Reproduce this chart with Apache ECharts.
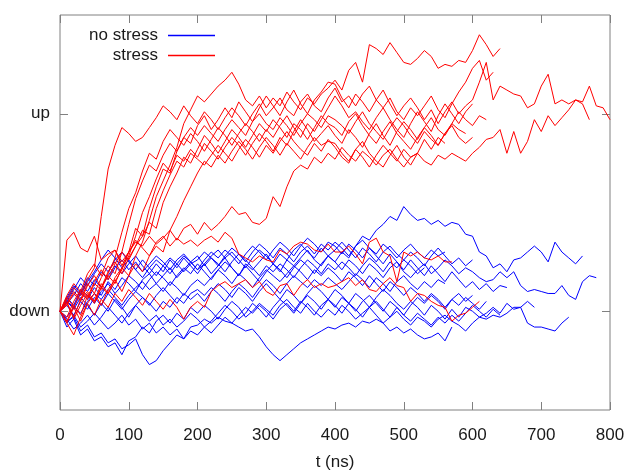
<!DOCTYPE html>
<html>
<head>
<meta charset="utf-8">
<script src="https://cdn.jsdelivr.net/npm/echarts@6/dist/echarts.min.js"></script>
<style>
html,body{margin:0;padding:0;background:#fff;}
#chart{width:627px;height:471px;}
</style>
</head>
<body>
<div id="chart"></div>
<script>
// sample times (ns)
const times = [0,10,20,30,40,50,60,70,80,90,100,110,120,130,140,150,160,170,180,190,200,210,220,230,240,250,260,270,280,290,300,310,320,330,340,350,360,370,380,390,400,410,420,430,440,450,460,470,480,490,500,510,520,530,540,550,560,570,580,590,600,610,620,630,640,650,660,670,680,690,700,710,720,730,740,750,760,770,780,790,800];
const xTicks = [0,100,200,300,400,500,600,700,800];
const yTickValues = [0, 100];
const yTickLabels = ['down', 'up'];

// "no stress" runs (state coordinate: down = 0, up = 100)
const noStress1 = [0,-8,-4,-12,-9,-15,-13,-18,-16,-22,-15,-13,-8,-11,-5,-2,-6,-1,-4,2,-1,3,0,-4,1,5,2,-3,0,4,1,-2,3,6,2,-1,4,0,-3,1,-2,3,0,-4,-1,2,-2,-6,-3,0,-4,-7,-3,-5,-8,-4,-2,-5,-7,-10,-6,-3,-1,2,-1,4,1,2,5,2];
const noStress2 = [0,-5,-3,-10,-7,-13,-11,-16,-14,-19,-17,-14,-22,-27,-25,-20,-16,-12,-14,-8,-7,-4,-6,-3,-5,-6,-8,-10,-9,-13,-18,-22,-25,-22,-19,-16,-14,-12,-10,-8,-9,-7,-6,-8,-5,-6,-4,-6,-10,-8,-11,-9,-12,-14,-13,-11,-15,-8];
const noStress3 = [0,5,2,9,6,12,8,15,11,17,14,10,16,19,14,18,22,17,21,25,21,24,19,23,27,22,18,24,21,25,29,24,20,26,23,27,31,26,23,28,25,30,27,33,38,36,41,44,48,46,53,49,46,47,44,46,43,45,44,39,38,30,28,22,24,20,26,27,30,33,30,25,35,30,27,24,28];
const noStress4 = [0,7,3,11,8,4,10,14,9,13,18,15,11,16,20,17,13,18,22,19,24,20,16,21,25,22,18,23,19,15,20,24,21,17,22,26,23,19,24,28,25,21,26,23,19,24,21,17,22,25,20,17,21,24,19,22,26,23,19,22,20,17,15,16,20,17,20,13,10,11,10,9,9,13,8,6,15,18,17];
const noStress5 = [0,3,-2,5,1,7,3,9,5,1,6,10,7,3,8,12,8,4,9,6,9,5,10,14,11,7,12,9,5,10,14,10,6,11,8,4,9,13,10,6,11,8,4,9,6,2,7,11,8,4,1,5,2,-2,3,0,-4,1,-3,2,0,-3,-4,-2,-3,-1,2,2,-6,-8,-8,-9,-10,-6,-3];
const noStress6 = [0,6,12,8,15,20,26,31,27,22,26,21,17,22,26,23,19,24,28,25,21,26,30,27,31,28,24,29,33,30,26,31,35,32,28,33,37,34,30,35,33,29,34,31,27,32,28,24,29,25,21,26,22,18,23,19,15,20,16,12,15,11,14,10,13,12];
const noStress7 = [0,4,8,14,10,16,12,18,23,19,24,28,23,19,24,20,26,22,27,23,19,24,28,31,27,30,26,22,27,31,28,24,29,26,31,34,30,27,32,28,31,35,31,27,32,29,25,30,33,29,26,30,27,23,28,32,28,24,27,23,26];
const noStress8 = [0,-3,2,-1,5,9,6,11,7,3,8,12,15,11,14,10,15,12,8,13,16,13,17,21,18,14,19,16,12,17,21,18,15,19,23,20,16,21,18,22,19,15,20,17,13,18,14,10,15,12,8,12,9,5,9,6,2,6,3,7,4,1,5];
const noStress9 = [0,5,1,7,3,-2,4,0,6,2,-3,3,7,4,0,5,2,7,4,9,11,8,12,9,5,10,14,11,7,12,16,13,9,14,18,15,12,16,13,17,14,11,15,19,16,12,17,14,10,15,18,14,11,15,12,16,14];
const noStress10 = [0,7,13,9,17,13,20,16,22,26,21,25,20,24,28,25,21,26,29,25,28,23,27,24,20,25,29,26,22,18,23,20,24,21,17,22,26,23,19,24,21,25,22,18,23,27,24,20,25,22,26,23,19,22];
const noStress11 = [0,-4,-9,-6,-2,-7,-3,2,-2,-6,-1,3,-1,-5,-2,-7,-4,-8,-5,-1,-4,-8,-5,-1,3,0,-4,-1,4,1,-3,2,6,3,-1,4,8,5,1,6,3,-1,4,1,-3,2,5,1,-3,2,-2,-5,-1,-4,-7,-3,-6,-2,-5,-1,3,0,-3,1,-2];
const noStress12 = [0,-6,-2,-8,-5,-1,-5,-9,-6,-2,-7,-4,-9,-6,-11,-8,-12,-9,-14,-10,-12,-8,-11,-7,-3,-6,-2,2,-1,3,0,-4,1,4,0,5,2,-2,3,6,2,7,4,0,5,8,4,0,5,2,-2,3,7,4,8,5,1,6,9,5,8];
const noStress13 = [0,5,11,17,13,19,24,20,26,30,25,21,26,22,18,23,27,24,20,24,26,30,27,23,28,32,29,25,30,34,31,27,32,29,25,30,33,29,34,31,35,32,28,33,36,32,29,34,31,27,31,34,30,27,31,28,30];

// "stress" runs
const stress1 = [0,4,-3,6,10,5,14,9,17,22,18,28,35,46,58,66,74,83,95,102,109,106,110,114,117,121,115,107,104,109,103,108,104,111,106,102,108,105,110,113,117,112,122,126,116,135,133,130,136,131,126,125,128,132,129,123,125,124,127,126,132,140,135,129,133];
const stress2 = [0,6,12,8,16,22,48,72,84,93,90,86,88,93,98,104,101,97,104,99,95,101,97,92,98,103,99,94,100,105,99,103,108,102,99,106,110,104,101,108,113,106,109,104,110,114,107,103,108,101,97,103,99,104,109,102,98,105,111,116,123,127,117,121];
const stress3 = [0,-5,3,-2,8,5,12,9,15,21,30,42,38,52,63,72,70,81,88,85,94,99,92,97,103,98,106,101,96,103,109,104,99,106,112,105,100,107,111,116,115,108,103,110,106,101,107,112,105,99,104,108,103,97,102,95,101,106,100,104,107,116,126,107,114,112,110,109,103,105,114,120,105,107,105,107,106,114,104,103,97];
const stress4 = [0,36,40,32,30,38,26,29,31,23,30,35,33,38,34,37,41,36,42,44,39,45,41,44,48,53,49,50,45,44,47,58,53,63,71,74,72,78,75,80,77,83,79,76,81,78,74,79,82,77,73,78,80,76,74,79,77,80,78,76,80,83,87,88,92,80,91,80,86,97,91,99,94,98,102,107,105,97];
const stress5 = [0,-6,2,10,6,14,11,19,27,40,52,60,71,80,77,86,92,88,84,90,86,81,87,93,89,84,90,95,91,86,92,88,94,99,93,88,95,91,97,103,109,104,98,101,96,92,98,103,97,92,88,95,101,96,91,99,105,100,95,101,105];
const stress6 = [0,5,-4,3,9,4,12,18,14,22,28,38,50,58,67,75,71,79,76,82,78,85,81,77,83,88,84,79,85,90,86,81,88,84,91,97,92,86,90,94,89,85,92,88,83,90,95,89,84,91,96,92,87,93,98,92,89,95,101,97,94,99,97];
const stress7 = [0,3,9,5,13,18,12,20,25,19,27,33,41,39,52,61,69,76,73,80,77,74,79,84,80,76,82,87,83,78,84,80,86,91,86,82,79,85,81,87,83,78,75,82,86,80,76,73,79,84,78,74,80,87,82,88,85];
const stress8 = [0,-3,5,11,7,15,21,16,24,30,26,33,38,45,42,55,63,70,78,75,82,89,85,80,86,92,88,83,89,95,91,97,93,88,95,92,87,93,99,95,93,89,96,100,94,89,85,91,96,90,86,82,88,93,89,84,90,95,92,90];
const stress9 = [0,7,2,-5,4,9,3,11,16,10,18,24,20,28,33,30,41,48,56,63,70,76,73,79,75,81,86,82,77,83,88,84,79,85,81,77,83,88,84,86,85,80,76,82,78,73,79,84,80,76,82,78,80];
const stress10 = [0,8,14,10,19,24,18,27,31,25,30,36,32,28,35,38,33,37,34,36,33,36,38,35,40,37,29,27,25,28,26,25,31,29,33,35,34,31,30,34,30,30,33,29,24,35,37,30,28,15,30,28,30,27,26,28,25,25];
const stress11 = [0,-6,-12,-3,4,-2,6,2,9,5,11,7,3,9,5,1,6,2,-4,2,5,2,10,13,15,12,14,16,12,15,10,8,13,14,8,13,16,12,14,12,13,15,17,13,16,11,10,14,17,13,12,5,9,8,5,3,2,-5,-2,-1,2,5];
const stress12 = [0,4,10,6,14,9,17,23,19,30,44,57,66,74,71,79,85,81,88,93,89,94,90,86,92,97,93,89,96,100,95,92,98,94,89,95,100,97,93,99,97,94,90,96,101,95,91,87,93,98,94,89,85,91,87,84,90,94,88,85,88];

const noStressRuns = [noStress1,noStress2,noStress3,noStress4,noStress5,noStress6,noStress7,noStress8,noStress9,noStress10,noStress11,noStress12,noStress13];
const stressRuns = [stress1,stress2,stress3,stress4,stress5,stress6,stress7,stress8,stress9,stress10,stress11,stress12];

const BLUE = '#0000ff', RED = '#ff0000';
const FONT = 'Liberation Sans';

function mk(run, name, color) {
  return {
    type: 'line', name: name, data: run.map((v, i) => [times[i], v]),
    showSymbol: false, symbol: 'none', silent: true,
    lineStyle: { color: color, width: 1 }, itemStyle: { color: color },
    xAxisIndex: 0, yAxisIndex: 0
  };
}
const series = [];
noStressRuns.forEach(r => series.push(mk(r, 'no stress', BLUE)));
stressRuns.forEach(r => series.push(mk(r, 'stress', RED)));

const chart = echarts.init(document.getElementById('chart'), null, { renderer: 'canvas' });
const tickStyle = { show: true, inside: true, length: 8, lineStyle: { color: '#808080', width: 1 } };
const noLine = { show: false, onZero: false };
chart.setOption({
  animation: false,
  backgroundColor: '#ffffff',
  textStyle: { fontFamily: FONT },
  grid: { left: 60, right: 17, top: 15, bottom: 61, show: true, borderColor: '#808080', borderWidth: 1,
    backgroundColor: 'transparent', containLabel: false, outerBoundsMode: 'none' },
  legend: [
    { data: ['no stress'], right: 412, top: 27, orient: 'vertical', align: 'right', icon: 'rect', itemWidth: 47, itemHeight: 1.5, padding: 0,
      textStyle: { fontFamily: FONT, fontSize: 17, color: '#1a1a1a', padding: [0, 5, 0, 0] }, itemStyle: { color: BLUE }, selectedMode: false },
    { data: ['stress'], right: 412, top: 47, orient: 'vertical', align: 'right', icon: 'rect', itemWidth: 47, itemHeight: 1.5, padding: 0,
      textStyle: { fontFamily: FONT, fontSize: 17, color: '#1a1a1a', padding: [0, 5, 0, 0] }, itemStyle: { color: RED }, selectedMode: false }
  ],
  xAxis: [
    { type: 'value', position: 'bottom', min: 0, max: 800, interval: 100,
      axisLine: noLine, splitLine: { show: false }, axisTick: tickStyle,
      axisLabel: { fontFamily: FONT, fontSize: 17, color: '#1a1a1a', margin: 17,
        customValues: xTicks, formatter: v => String(v) },
      name: 't (ns)', nameLocation: 'middle', nameGap: 44,
      nameTextStyle: { fontFamily: FONT, fontSize: 17, color: '#1a1a1a' } },
    { type: 'value', position: 'top', min: 0, max: 800, interval: 100,
      axisLine: noLine, splitLine: { show: false }, axisTick: tickStyle,
      axisLabel: { show: false } }
  ],
  yAxis: [
    { type: 'value', position: 'left', min: -50, max: 150, interval: 50,
      axisLine: noLine, splitLine: { show: false },
      axisTick: Object.assign({}, tickStyle, { customValues: yTickValues }),
      axisLabel: { fontFamily: FONT, fontSize: 17, color: '#1a1a1a', margin: 10,
        customValues: yTickValues, formatter: v => yTickLabels[yTickValues.indexOf(v)] || '' } },
    { type: 'value', position: 'right', min: -50, max: 150, interval: 50,
      axisLine: noLine, splitLine: { show: false },
      axisTick: Object.assign({}, tickStyle, { customValues: yTickValues }),
      axisLabel: { show: false } }
  ],
  series: series
});
</script>
</body>
</html>
